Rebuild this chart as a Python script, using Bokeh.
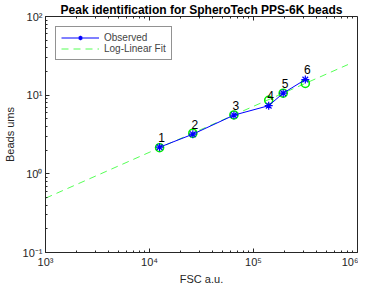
from bokeh.plotting import figure
from bokeh.models import LogAxis, FixedTicker, Legend, LegendItem, ColumnDataSource, Range1d
from bokeh.core.properties import value
from bokeh.embed import file_html
from bokeh.resources import INLINE

# data
obs_x = [12500, 26100, 64800, 140000, 193000, 315000]
obs_y = [2.18, 3.19, 5.57, 7.35, 10.6, 15.8]
fit_y = [2.15, 3.28, 5.6, 8.6, 10.6, 14.1]
peak_labels = ["1", "2", "3", "4", "5", "6"]
fit_line_x = [1e3, 8.1e5]
fit_line_y = [0.49, 24.5]
x_ticks = [1e3, 1e4, 1e5, 1e6]
x_tick_labels = ["10³", "10⁴", "10⁵", "10⁶"]
y_ticks = [0.1, 1, 10, 100]
y_tick_labels = ["10⁻¹", "10⁰", "10¹", "10²"]

FONT = "Liberation Sans"
AX = "#262626"

p = figure(width=358, height=287, x_axis_type="log", y_axis_type="log",
           x_range=Range1d(1e3, 1e6), y_range=Range1d(0.1, 100),
           output_backend="svg", toolbar_location=None,
           title="Peak identification for SpheroTech PPS-6K beads",
           min_border_left=35, min_border_right=1, min_border_top=0, min_border_bottom=0)
p.title.text_font = FONT
p.title.text_font_size = "12px"
p.title.text_font_style = "bold"
p.title.align = "center"
p.title.standoff = 0
p.title.text_color = "black"
p.outline_line_color = AX
p.grid.visible = False

def minor(ticks):
    out = []
    for t in ticks[:-1]:
        out += [m * t for m in range(2, 10)]
    return out

def style(ax, ticks, labels):
    ax.ticker = FixedTicker(ticks=ticks, minor_ticks=minor(ticks))
    ax.axis_line_color = AX
    ax.major_tick_line_color = AX
    ax.minor_tick_line_color = AX
    ax.major_tick_in = 4
    ax.major_tick_out = 0
    ax.minor_tick_in = 2
    ax.minor_tick_out = 0
    ax.major_label_text_font = FONT
    ax.major_label_text_font_size = "11px"
    ax.major_label_text_color = AX
    ax.axis_label_text_font = FONT
    ax.axis_label_text_font_size = "11px"
    ax.axis_label_text_font_style = "normal"
    ax.axis_label_text_color = AX
    ax.major_label_overrides = {t: l for t, l in zip(ticks, labels)}

style(p.xaxis[0], x_ticks, x_tick_labels)
style(p.yaxis[0], y_ticks, y_tick_labels)
p.xaxis[0].axis_label = "FSC a.u."
p.yaxis[0].axis_label = "Beads ums"
p.xaxis[0].major_label_standoff = 3
p.xaxis[0].axis_label_standoff = 2
p.yaxis[0].major_label_standoff = 3
p.yaxis[0].axis_label_standoff = 4

top = LogAxis(fixed_location=y_ticks[-1])
style(top, x_ticks, ["", "", "", ""])
top.major_label_standoff = 0
top.axis_label_standoff = 0
top.major_label_text_font_size = "1px"
p.add_layout(top, "above")

src = ColumnDataSource(dict(x=obs_x, y=obs_y, fy=fit_y, lab=peak_labels))

fit_r = p.line(fit_line_x, fit_line_y, line_color="#55ff55", line_width=1, line_dash="7 5")
p.scatter("x", "fy", source=src, marker="circle", size=8, fill_color=None,
          line_color="#00ee00", line_width=1.6)
obs_line = p.line("x", "y", source=src, line_color="#0000ff", line_width=1)
obs_pts = p.scatter("x", "y", source=src, marker="asterisk", size=8, line_color="#0000ff", line_width=1.2)
p.text("x", "y", text="lab", source=src, x_offset=2, y_offset=-10,
       text_font=value(FONT), text_font_size="12px", text_align="center",
       text_baseline="middle", text_color="black")

legend = Legend(items=[LegendItem(label="Observed", renderers=[obs_line, obs_pts]),
                       LegendItem(label="Log-Linear Fit", renderers=[fit_r])],
                location="top_left")
legend.label_text_font = FONT
legend.label_text_font_size = "10px"
legend.border_line_color = AX
legend.margin = 10
legend.padding = 5
legend.spacing = 0
legend.glyph_width = 38
legend.glyph_height = 11
legend.label_height = 11
legend.label_standoff = 5
p.add_layout(legend)

open("out.html", "w").write(file_html(p, INLINE))
